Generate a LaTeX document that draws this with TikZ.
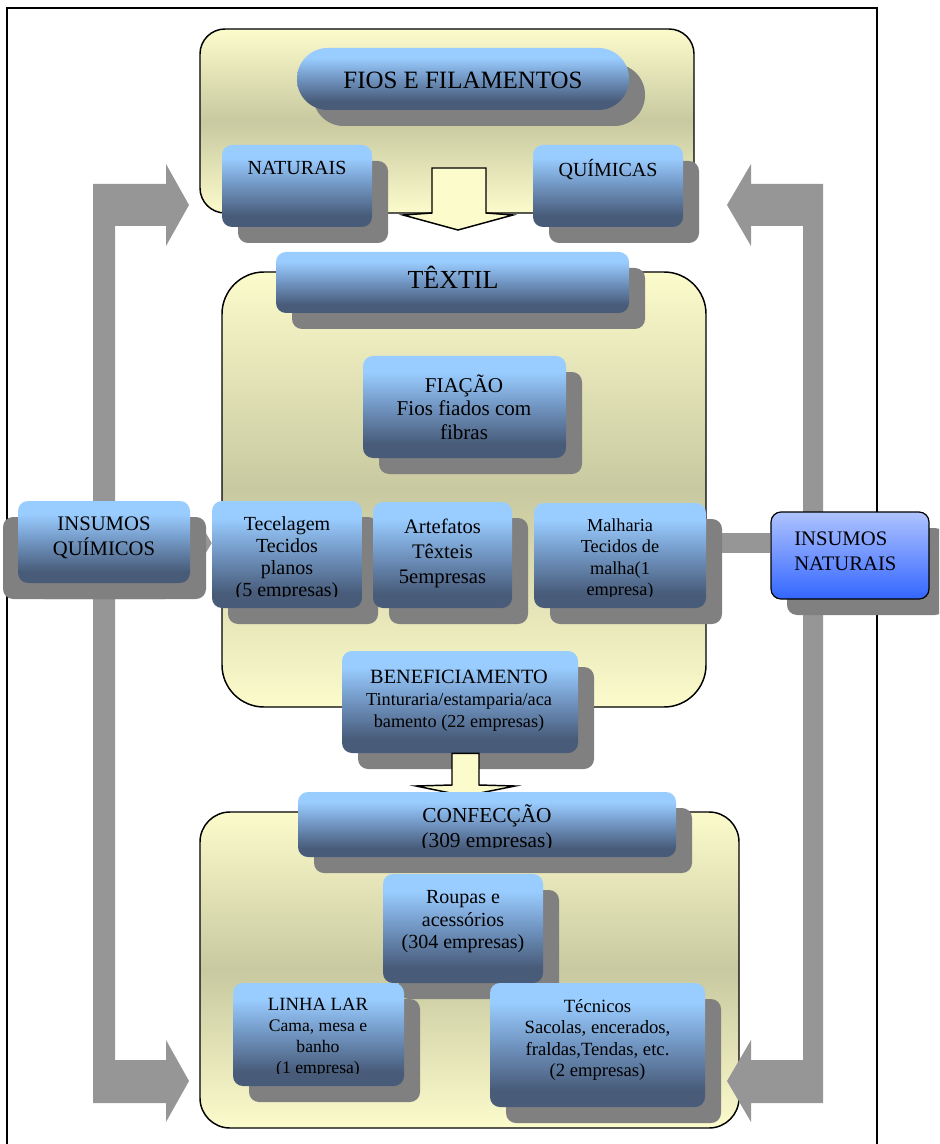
\documentclass[tikz,border=0pt]{standalone}
\usepackage{fontspec}
\setmainfont{Liberation Serif}
\usetikzlibrary{calc,shadows,arrows.meta}

\definecolor{shadowgray}{RGB}{128,128,128}
\definecolor{arrowgray}{RGB}{150,150,150}
\definecolor{btop}{RGB}{153,204,255}
\definecolor{bmid}{RGB}{112,148,192}
\definecolor{bbot}{RGB}{72,92,122}
\definecolor{ytop}{RGB}{252,251,204}
\definecolor{ymid}{RGB}{200,201,160}
\definecolor{ntop}{RGB}{175,195,255}
\definecolor{nbot}{RGB}{51,102,255}

% blue panels: light top band, dark bottom band
\pgfdeclareverticalshading{panelshade}{100bp}{color(0bp)=(bbot); color(32bp)=(bbot); color(50bp)=(bmid); color(67bp)=(btop); color(100bp)=(btop)}
% cream group frames: light - darker - light
\pgfdeclareverticalshading{groupshade}{100bp}{color(0bp)=(ytop); color(25bp)=(ytop); color(50bp)=(ymid); color(75bp)=(ytop); color(100bp)=(ytop)}

\pgfdeclarelayer{back}
\pgfdeclarelayer{mid}
\pgfsetlayers{back,mid,main}

\newcommand\setfs[2]{\fontsize{#1}{#2}\selectfont}
% panel node from its corners (x1,y1) (x2,y2) in pixel units
\newcommand\panelnode[6][]{\node[panel,#1,minimum width={(#5-#3)*0.75pt},minimum height={(#6-#4)*0.75pt}] (#2) at ({(#3+#5)/2},{(#4+#6)/2}) {};}
\newcommand\groupnode[6][]{\node[group,#1,minimum width={(#5-#3)*0.75pt},minimum height={(#6-#4)*0.75pt}] (#2) at ({(#3+#5)/2},{(#4+#6)/2}) {};}

\begin{document}
\begin{tikzpicture}[x=0.75pt,y=-0.75pt,
  panel/.style={shade, shading=panelshade, rounded corners=7.5pt, inner sep=0pt,
    general shadow={fill=shadowgray, shadow xshift=12pt, shadow yshift=-12pt}},
  leftshadow/.style={general shadow={fill=shadowgray, shadow xshift=-11.25pt, shadow yshift=-12pt}},
  group/.style={draw=black, line width=1.1pt, shade, shading=groupshade, inner sep=0pt},
  blockarrow/.style={fill=ytop, draw=black, line width=1.1pt, line join=miter},
  sidearrow/.style={fill=arrowgray},
  txt/.style={align=center, inner sep=0pt, text=black}]

\useasboundingbox (0,0) rectangle (939,1144);
\clip (0,0) rectangle (939,1144);

% outer frame
\draw[line width=1.1pt] (7,1150) -- (7,8) -- (877,8) -- (877,1150);

% group frames
\begin{pgfonlayer}{back}
  \groupnode[rounded corners=18.75pt]{fiosgrp}{200}{29}{694}{213}
  \groupnode[rounded corners=31.5pt]{texgrp}{222}{272}{706}{707}
  \groupnode[rounded corners=22.5pt]{confgrp}{200}{812}{739}{1128}
\end{pgfonlayer}

% panels
\panelnode[rounded corners=23pt]{fios}{297}{48}{629}{110}
\panelnode{nat}{222}{145}{372}{227}
\panelnode{qui}{533}{145}{683}{227}
\panelnode{tex}{276}{252}{629}{313}
\panelnode{fia}{363}{356}{566}{458}
\panelnode{tec}{212}{501}{362}{608}
\panelnode{art}{373}{502}{512}{608}
\panelnode{mal}{534}{503}{706}{608}
\panelnode[leftshadow]{iq}{18}{501}{190}{583}
\node[draw=black, line width=0.9pt, top color=ntop, bottom color=nbot, rounded corners=7.5pt, inner sep=0pt,
  general shadow={fill=shadowgray, shadow xshift=12pt, shadow yshift=-12pt},
  minimum width={158*0.75pt}, minimum height={87*0.75pt}] (inat) at (850,555.5) {};
\panelnode{ben}{342}{651}{578}{753}

% arrow from BENEFICIAMENTO down to CONFECÇÃO
\draw[blockarrow] (ben.south -| 452,0) -- (ben.south -| 479,0) -- (479,785) -- (515,786) -- (465,796)
  -- (416,786) -- (452,785) -- cycle;

\panelnode{conf}{298}{792}{676}{857}
\panelnode{rou}{383}{874}{543}{983}
\panelnode{lin}{233}{983}{404}{1086}
\panelnode{tecn}{490}{983}{705}{1107}

% connectors behind the panels
\begin{pgfonlayer}{mid}
  % arrow from FIOS E FILAMENTOS down to TÊXTIL
  \draw[blockarrow] (432,168) -- (486,168) -- (486,213) -- (513,215) -- (458,230) -- (403,215)
    -- (432,213) -- cycle;
  % bracket arrows on the left and right
  \fill[sidearrow] (93,184) -- (166,184) -- (166,164) -- (189,205) -- (166,246) -- (166,226)
    -- (115,226) -- (115,1060) -- (166,1060) -- (166,1040) -- (189,1081) -- (166,1122)
    -- (166,1103) -- (93,1103) -- cycle;
  \fill[sidearrow] (823,184) -- (751,184) -- (751,164) -- (727,205) -- (751,246) -- (751,226)
    -- (803,226) -- (803,1060) -- (751,1060) -- (751,1040) -- (727,1081) -- (751,1122)
    -- (751,1103) -- (823,1103) -- cycle;
  % INSUMOS QUÍMICOS -> Tecelagem
  \draw[arrowgray, line width=15pt, -{Triangle[length=9pt, width=30pt]}] (iq.east |- 0,543) -- (tec.west |- 0,543);
  % Malharia -- INSUMOS NATURAIS
  \draw[arrowgray, line width=15pt] (mal.east |- 0,543) -- (inat.west |- 0,543);
\end{pgfonlayer}

% texts
\node[txt, font=\setfs{18.7}{22}] (fios-t) at (463,80) {FIOS E FILAMENTOS};
\node[txt, font=\setfs{15}{18}] (nat-t) at (297,168) {NATURAIS};
\node[txt, font=\setfs{15}{18}] (qui-t) at (608,170) {QUÍMICAS};
\node[txt, font=\setfs{19.5}{23}] (tex-t) at (453,277) {TÊXTIL};
\node[txt, font=\setfs{15.8}{17.6}] (fia-t) at (464,407) {FIAÇÃO\\Fios fiados com\\fibras};
\begin{scope}
  \clip (212,490) rectangle (362,596);
  \node[txt, font=\setfs{15}{16.5}] (tec-t) at (287,559) {Tecelagem\\Tecidos\\planos\\(5 empresas)};
\end{scope}
\node[txt, font=\setfs{15.5}{18.7}] (art-t) at (442.5,553) {Artefatos\\Têxteis\\5empresas};
\begin{scope}
  \clip (534,490) rectangle (706,596);
  \node[txt, font=\setfs{13.7}{16}] (mal-t) at (620,559) {Malharia\\Tecidos de\\malha(1\\empresa)};
\end{scope}
\node[txt, font=\setfs{15.5}{18.7}] (iq-t) at (104,538) {INSUMOS\\QUÍMICOS};
\node[txt, font=\setfs{15.5}{18.7}, align=left, anchor=west] (inat-t) at (794,551) {INSUMOS\\NATURAIS};
\node[txt, font=\setfs{13.7}{16.5}] (ben-t) at (459,701) {{\setfs{15.2}{18}BENEFICIAMENTO}\\Tinturaria/estamparia/aca\\bamento (22 empresas)};
\begin{scope}
  \clip (298,780) rectangle (676,847);
  \node[txt, font=\setfs{16}{18.7}] (conf-t) at (487,828) {CONFECÇÃO\\(309 empresas)};
\end{scope}
\node[txt, font=\setfs{15}{16.9}] (rou-t) at (463,922) {Roupas e\\acessórios\\(304 empresas)};
\begin{scope}
  \clip (233,983) rectangle (404,1073);
  \node[txt, font=\setfs{13.2}{15.7}] (lin-t) at (318,1038) {{\setfs{14}{15.7}LINHA LAR}\\Cama, mesa e\\banho\\(1 empresa)};
\end{scope}
\node[txt, font=\setfs{14}{16.1}] (tecn-t) at (597.5,1040) {Técnicos\\Sacolas, encerados,\\fraldas,Tendas, etc.\\(2 empresas)};

\end{tikzpicture}
\end{document}
